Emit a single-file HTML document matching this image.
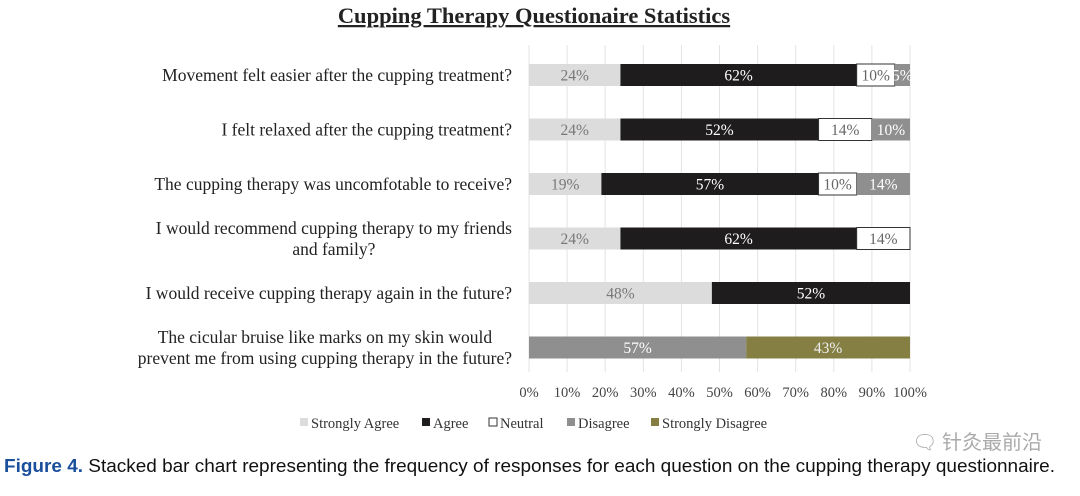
<!DOCTYPE html>
<html><head><meta charset="utf-8"><style>
body{margin:0;background:#fff;width:1080px;height:496px;overflow:hidden;font-family:"Liberation Serif",serif;}
svg{position:absolute;left:0;top:0}
</style></head><body>
<svg width="1080" height="496">
<text x="534" y="23" text-anchor="middle" font-size="22.5" font-weight="bold" text-decoration="underline" fill="#222">Cupping Therapy Questionaire Statistics</text>
<g id="grid"></g><g id="bars"></g><g id="labels"></g><g id="ticks"></g>
<g id="legend" font-size="14.5" fill="#333"></g>
<text x="4" y="472" font-family="Liberation Sans,sans-serif" font-size="18.5" textLength="1051" lengthAdjust="spacingAndGlyphs" fill="#111"><tspan fill="#1a4f9c" font-weight="bold">Figure 4.</tspan> Stacked bar chart representing the frequency of responses for each question on the cupping therapy questionnaire.</text>
<text x="1042" y="449" text-anchor="end" font-family="Noto Sans CJK SC,sans-serif" font-size="20" fill="#aaa">🗨 针灸最前沿</text>
</svg>
<script>
const questions=[["Movement felt easier after the cupping treatment?"],["I felt relaxed after the cupping treatment?"],["The cupping therapy was uncomfotable to receive?"],["I would recommend cupping therapy to my friends","and family?"],["I would receive cupping therapy again in the future?"],["The cicular bruise like marks on my skin would","prevent me from using cupping therapy in the future?"]];
const stronglyAgree=[24,24,19,24,48,0];
const agree=[62,52,57,62,52,0];
const neutral=[10,14,10,14,0,0];
const disagree=[5,10,14,0,0,57];
const stronglyDisagree=[0,0,0,0,0,43];
const tickLabels=["0%","10%","20%","30%","40%","50%","60%","70%","80%","90%","100%"];
const seriesNames=["Strongly Agree","Agree","Neutral","Disagree","Strongly Disagree"];
const NS="http://www.w3.org/2000/svg";
const X0=529,X1=910,xs=v=>X0+(X1-X0)*v/100;
const ys=i=>75+i*54.5;
function mk(t,a,p){const e=document.createElementNS(NS,t);for(const k in a)e.setAttribute(k,a[k]);p.appendChild(e);return e;}
const G=id=>document.getElementById(id);
tickLabels.forEach((t,i)=>{const x=xs(i*10);
 const l=mk("line",{x1:x,x2:x,y1:45,y2:372,stroke:"#e3e3e3"},G("grid"));
 
 
 const tx=mk("text",{x:x,y:397,"text-anchor":"middle","font-size":14.5,fill:"#444"},G("ticks"));tx.textContent=t;
 
 
});
const series=[stronglyAgree,agree,neutral,disagree,stronglyDisagree];
const fills=["#dcdcdc","#1e1c1c","#ffffff","#8f8f8f","#857f44"];
const tcol=["#777","#fff","#666","#fff","#eee"];
questions.forEach((q,i)=>{
 const y=ys(i);
 const els=q.map((line,j)=>{const t=mk("text",{x:512,y:y+6+(j-(q.length-1)/2)*21,"text-anchor":"middle","font-size":17.5,fill:"#222"},G("labels"));t.textContent=line;
  
  return t;});
 const w=Math.max(...els.map(e=>e.getComputedTextLength()));
 els.forEach(e=>e.setAttribute("x",512-w/2));
 let c=0;
 series.forEach((s,k)=>{const v=s[i];if(!v)return;
  const a=Math.min(c,100),b=Math.min(c+v,100);c+=v;
  const r=mk("rect",{x:xs(a),y:y-11,width:xs(b)-xs(a),height:22,fill:fills[k],stroke:k==2?"#333":"none","stroke-width":1},G("bars"));
  
  
  const t=mk("text",{x:(xs(a)+xs(b))/2,y:y+5.5,"text-anchor":"middle","font-size":15.5,fill:tcol[k]},G("bars"));t.textContent=v+"%";
  
  
 });
});
const lx=[300,422,489,567,651];
seriesNames.forEach((n,k)=>{
 const r=mk("rect",{x:lx[k],y:418,width:8,height:8,fill:fills[k],stroke:k==2?"#333":"none"},G("legend"));
 
 
 const t=mk("text",{x:lx[k]+11,y:428},G("legend"));t.textContent=n;
 
 
});
</script>
</body></html>
